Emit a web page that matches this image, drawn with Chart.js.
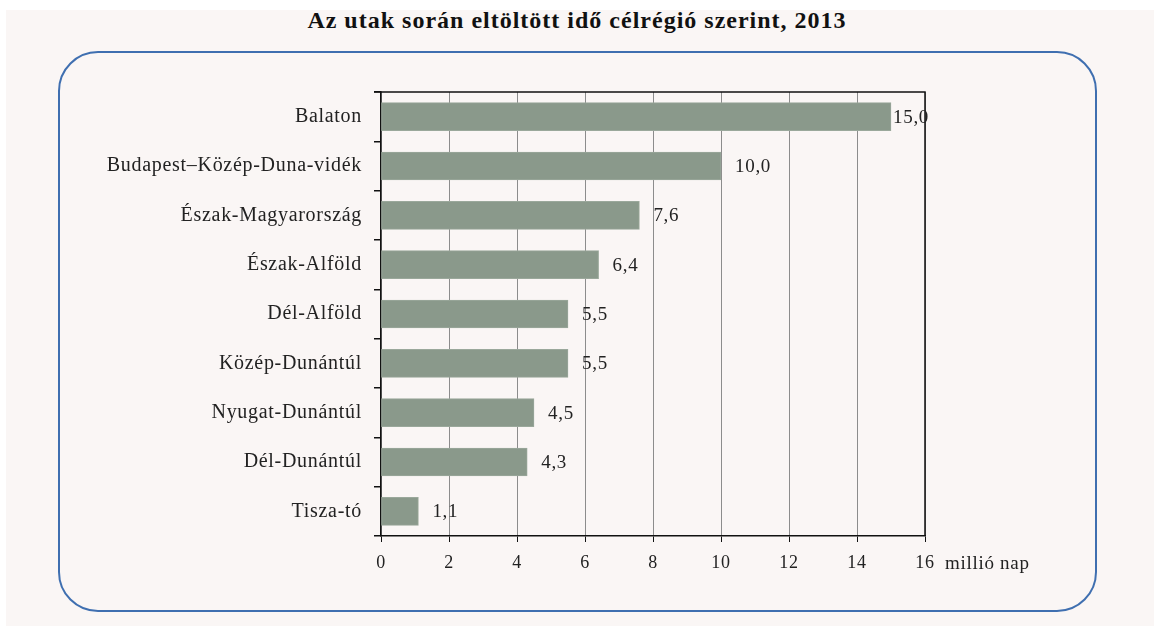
<!DOCTYPE html>
<html>
<head>
<meta charset="utf-8">
<script src="https://cdn.jsdelivr.net/npm/chart.js@4/dist/chart.umd.min.js"></script>
<style>
  html, body { margin: 0; padding: 0; background: #ffffff; }
  body { width: 1154px; height: 626px; position: relative; overflow: hidden; }
  #bg { position: absolute; left: 6px; top: 10px; right: 0; bottom: 0; background: #faf6f5; }
  #frame { position: absolute; left: 58px; top: 51px; width: 1035px; height: 557px;
           border: 2px solid #3f6fb0; border-radius: 40px; }
  #title { position: absolute; left: 0; width: 1154px; top: 7px; text-align: center;
           font-family: "Liberation Serif", "DejaVu Serif", serif; font-weight: bold;
           font-size: 24px; letter-spacing: 1px; color: #111; }
  #wrap { position: absolute; left: 0; top: 0; width: 1154px; height: 626px; }
</style>
</head>
<body>
<div id="bg"></div>
<div id="frame"></div>
<div id="title">Az utak során eltöltött idő célrégió szerint, 2013</div>
<div id="wrap"><canvas id="c" width="1154" height="626"></canvas></div>
<script>
const categories = ["Balaton", "Budapest–Közép-Duna-vidék", "Észak-Magyarország", "Észak-Alföld", "Dél-Alföld", "Közép-Dunántúl", "Nyugat-Dunántúl", "Dél-Dunántúl", "Tisza-tó"];
const values = [15.0, 10.0, 7.6, 6.4, 5.5, 5.5, 4.5, 4.3, 1.1];
const xTicks = [0, 2, 4, 6, 8, 10, 12, 14, 16];
const unitLabel = "millió nap";

const FONT = '"Liberation Serif", "DejaVu Serif", serif';

const spacing = {
  id: 'spacing',
  beforeDraw(chart) { chart.ctx.letterSpacing = '0.7px'; }
};

const extras = {
  id: 'extras',
  afterDraw(chart) {
    const ctx = chart.ctx;
    const a = chart.chartArea;
    ctx.save();
    ctx.letterSpacing = '0.7px';
    // plot border top and right
    ctx.strokeStyle = '#111';
    ctx.lineWidth = 1.5;
    ctx.beginPath();
    ctx.moveTo(a.left - 7, a.top);
    ctx.lineTo(a.right, a.top);
    ctx.lineTo(a.right, a.bottom);
    ctx.stroke();
    // value labels
    const meta = chart.getDatasetMeta(0);
    ctx.fillStyle = '#222';
    ctx.font = '19px ' + FONT;
    ctx.textAlign = 'left';
    ctx.textBaseline = 'middle';
    meta.data.forEach((bar, i) => {
      const txt = values[i].toFixed(1).replace('.', ',');
      const w = ctx.measureText(txt).width;
      const off = Math.max(2, Math.min(14, a.right + 4 - w - bar.x));
      ctx.fillText(txt, bar.x + off, bar.y + 1);
    });
    // unit label
    const xs = chart.scales.x;
    ctx.fillText(unitLabel, a.right + 20, xs.top + 28);
    ctx.restore();
  }
};

new Chart(document.getElementById('c'), {
  type: 'bar',
  data: {
    labels: categories,
    datasets: [{
      data: values,
      backgroundColor: '#8a998b',
      borderColor: '#9aa89b',
      borderWidth: 1,
      borderSkipped: false,
      barThickness: 28
    }]
  },
  options: {
    indexAxis: 'y',
    responsive: false,
    animation: false,
    devicePixelRatio: 1,
    layout: { padding: { top: 92, right: 229, left: 0, bottom: 0 } },
    plugins: { legend: { display: false }, tooltip: { enabled: false }, title: { display: false } },
    scales: {
      x: {
        min: 0, max: 16,
        afterBuildTicks(scale) { scale.ticks = xTicks.map(v => ({ value: v })); },
        afterFit(scale) { scale.height = 90; },
        grid: { color: '#8c8c8c', lineWidth: 1, tickColor: '#111', tickLength: 6, drawOnChartArea: true },
        border: { color: '#111', width: 1.5 },
        ticks: { color: '#222', font: { family: FONT, size: 18 }, padding: 10 }
      },
      y: {
        afterFit(scale) { scale.width = 381; },
        grid: { drawOnChartArea: false, tickColor: '#111', tickLength: 7, offset: true, lineWidth: 1.5 },
        border: { color: '#111', width: 1.5 },
        ticks: { color: '#222', font: { family: FONT, size: 20 }, padding: 12 }
      }
    }
  },
  plugins: [spacing, extras]
});
</script>
</body>
</html>
